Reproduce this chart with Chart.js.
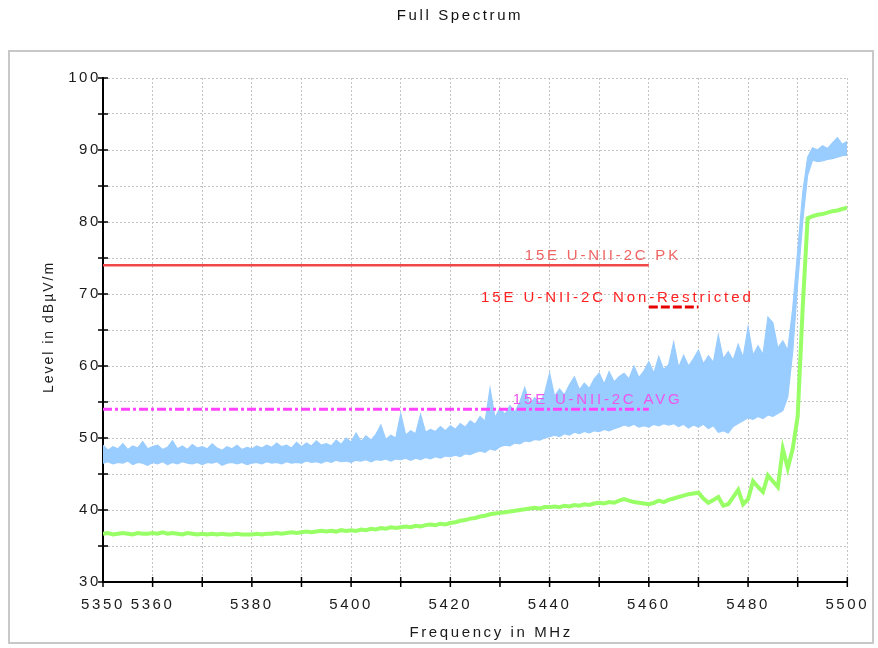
<!DOCTYPE html>
<html>
<head>
<meta charset="utf-8">
<script src="https://cdn.jsdelivr.net/npm/chart.js@4.4.1/dist/chart.umd.min.js"></script>
<style>
html,body{margin:0;padding:0;background:#fff;}
canvas{display:block;}
</style>
</head>
<body>
<canvas id="c" width="878" height="648"></canvas>
<script>
// ---------------- DATA ----------------
const freqMHz = [
5350,5351,5352,5353,5354,5355,5356,5357,5358,5359,
5360,5361,5362,5363,5364,5365,5366,5367,5368,5369,
5370,5371,5372,5373,5374,5375,5376,5377,5378,5379,
5380,5381,5382,5383,5384,5385,5386,5387,5388,5389,
5390,5391,5392,5393,5394,5395,5396,5397,5398,5399,
5400,5401,5402,5403,5404,5405,5406,5407,5408,5409,
5410,5411,5412,5413,5414,5415,5416,5417,5418,5419,
5420,5421,5422,5423,5424,5425,5426,5427,5428,5429,
5430,5431,5432,5433,5434,5435,5436,5437,5438,5439,
5440,5441,5442,5443,5444,5445,5446,5447,5448,5449,
5450,5451,5452,5453,5454,5455,5456,5457,5458,5459,
5460,5461,5462,5463,5464,5465,5466,5467,5468,5469,
5470,5471,5472,5473,5474,5475,5476,5477,5478,5479,
5480,5481,5482,5483,5484,5485,5486,5487,5488,5489,
5490,5491,5492,5493,5494,5495,5496,5497,5498,5499,
5500];

// Peak trace (blue): upper and lower edges of the noise band
const peakHigh = [
49.0,48.3,48.8,48.5,49.2,48.4,48.9,48.6,49.5,48.5,
48.8,49.0,48.4,48.7,49.6,48.5,48.9,48.4,49.1,48.6,
48.8,48.5,49.2,48.6,48.3,48.8,48.5,49.0,48.4,48.7,
48.5,48.9,48.6,49.0,48.7,49.3,48.8,49.0,48.6,49.4,
48.8,49.3,48.9,49.6,49.0,49.2,48.9,49.7,49.1,50.0,
49.4,50.7,49.5,50.3,49.7,50.5,51.8,49.8,50.4,50.0,
53.4,50.4,51.0,50.6,53.3,50.8,51.2,50.9,51.6,51.0,
51.7,51.2,52.0,51.5,52.4,51.9,53.0,52.3,56.9,52.8,
54.2,53.3,54.5,53.6,55.0,57.0,54.6,55.6,54.9,56.2,
59.0,55.8,56.8,56.0,57.4,58.5,56.7,57.6,56.9,58.2,
59.0,57.5,59.2,57.8,58.5,59.0,58.2,60.0,58.4,59.3,
60.6,59.0,61.3,59.5,60.2,63.3,59.8,61.5,60.0,61.0,
62.2,60.3,61.4,60.5,64.3,61.0,62.0,60.8,63.0,61.2,
65.4,61.5,62.8,61.6,66.8,66.0,62.5,63.5,62.2,68.0,
76.0,84.0,89.0,90.3,90.0,90.6,90.2,91.0,91.7,90.8,
91.2];
const peakLow = [
46.5,46.7,46.4,46.6,46.5,46.8,46.3,46.6,46.5,46.2,
46.6,46.4,46.7,46.3,46.6,46.4,46.7,46.5,46.4,46.6,
46.3,46.6,46.5,46.7,46.2,46.5,46.6,46.4,46.6,46.3,
46.5,46.6,46.4,46.7,46.5,46.6,46.4,46.7,46.5,46.6,
46.5,46.8,46.6,46.7,46.5,46.8,46.6,46.9,46.7,46.8,
46.6,46.9,46.8,47.0,46.7,47.0,46.9,47.1,46.8,47.1,
47.0,47.2,46.9,47.2,47.0,47.3,47.1,47.4,47.2,47.5,
47.4,47.6,47.4,47.8,47.7,48.0,48.2,48.0,48.5,48.3,
48.8,49.0,48.9,49.3,49.2,49.6,49.5,49.8,49.7,50.0,
50.2,50.4,50.2,50.6,50.4,50.8,50.6,50.9,50.7,51.0,
50.9,51.2,51.0,51.3,51.5,51.8,51.6,51.9,51.5,51.7,
51.5,51.9,51.7,52.0,51.8,52.0,51.6,51.9,51.4,51.8,
51.5,51.9,51.3,51.7,50.8,51.0,50.7,51.6,52.0,52.4,
52.8,52.6,53.0,52.7,53.2,53.0,53.4,53.8,55.7,62.0,
71.5,80.0,86.5,88.6,88.4,88.5,88.7,88.8,89.0,89.2,
89.3];

// Average trace (green)
const avgLevel = [
36.7,36.8,36.6,36.7,36.8,36.7,36.6,36.8,36.7,36.7,
36.8,36.7,36.9,36.7,36.8,36.7,36.6,36.8,36.7,36.6,
36.7,36.6,36.7,36.6,36.7,36.6,36.6,36.7,36.6,36.6,
36.6,36.7,36.6,36.7,36.7,36.8,36.7,36.8,36.9,36.8,
36.9,37.0,36.9,37.0,37.1,37.0,37.1,37.0,37.2,37.1,
37.2,37.1,37.3,37.2,37.4,37.3,37.5,37.4,37.6,37.5,
37.6,37.7,37.6,37.8,37.7,37.9,38.0,37.9,38.1,38.0,
38.2,38.3,38.5,38.6,38.8,38.9,39.1,39.2,39.4,39.5,
39.6,39.7,39.8,39.9,40.0,40.1,40.2,40.3,40.2,40.4,
40.4,40.5,40.4,40.6,40.5,40.7,40.6,40.8,40.7,40.9,
41.0,40.9,41.1,41.0,41.3,41.5,41.3,41.1,41.0,40.9,
40.8,41.0,41.3,41.1,41.4,41.6,41.8,42.0,42.2,42.3,
42.4,41.6,41.0,41.4,41.8,40.6,40.8,41.8,42.8,40.8,
41.5,44.0,43.2,42.5,44.8,44.0,43.2,48.5,45.8,48.5,
53.0,68.0,80.5,80.8,81.0,81.1,81.3,81.5,81.6,81.8,
82.0];

// Limit lines
const limitPkFreq = [5350, 5460];
const limitPkLevel = [74, 74];
const limitNrFreq = [5460, 5470];
const limitNrLevel = [68.2, 68.2];
const limitAvgFreq = [5350, 5460];
const limitAvgLevel = [54, 54];
const limitNames = ['15E U-NII-2C PK', '15E U-NII-2C Non-Restricted', '15E U-NII-2C AVG'];

// Tick labels
const yTickLabels = [30, 40, 50, 60, 70, 80, 90, 100];
const xTickLabels = [5350, 5360, 5380, 5400, 5420, 5440, 5460, 5480, 5500];

// ---------------- BUILD ----------------
const pts = (xs, ys) => xs.map((x, i) => ({x: x, y: ys[i]}));

// label placement (in data units) and styling
const limitLabelStyle = [
  {mhz: 5435.0, level: 75.3, color: '#f06464', ls: '2.8px'},
  {mhz: 5426.2, level: 69.4, color: '#ff2020', ls: '2.9px'},
  {mhz: 5432.6, level: 55.3, color: '#ee55ee', ls: '2.8px'}
];
const FONT = '"Liberation Sans", Arial, sans-serif';
const LS = '2.6px';
const BLUE = '#99ccff';

const decor = {
  id: 'decor',
  afterLayout(chart) {
    const tb = chart.titleBlock;
    if (tb && !tb._wrapped) {
      const orig = tb.draw.bind(tb);
      tb.draw = function (a) {
        const c = chart.ctx; c.save(); c.letterSpacing = LS;
        c.translate(460 - (tb.left + tb.right) / 2, 0); orig(a); c.restore();
      };
      tb._wrapped = true;
    }
    const xs = chart.scales.x, ys = chart.scales.y;
    if (xs && !xs._wrapped) {
      const o = xs.drawTitle.bind(xs);
      xs.drawTitle = function () { const c = chart.ctx; c.save(); c.letterSpacing = LS; c.translate(16, 0); o(); c.restore(); };
      xs._wrapped = true;
    }
    if (ys && !ys._wrapped) {
      const o = ys.drawTitle.bind(ys);
      ys.drawTitle = function () { const c = chart.ctx; c.save(); c.letterSpacing = '2px'; c.translate(0, -3); o(); c.restore(); };
      ys._wrapped = true;
    }
  },
  beforeDraw(chart) {
    const c = chart.ctx;
    c.save();
    c.fillStyle = '#fff'; c.fillRect(0, 0, chart.width, chart.height);
    c.strokeStyle = '#c8c8c8'; c.lineWidth = 2;
    c.strokeRect(9, 51, 864, 592);
    c.restore();
    c.letterSpacing = LS;
  },
  afterDatasetsDraw(chart) {
    const c = chart.ctx, x = chart.scales.x, y = chart.scales.y;
    c.save();
    c.strokeStyle = '#000'; c.lineWidth = 1.5;
    c.beginPath();
    y.ticks.forEach(t => { const p = y.getPixelForValue(t.value); c.moveTo(x.left - 5, p); c.lineTo(x.left + 5, p); });
    x.ticks.forEach(t => { const p = x.getPixelForValue(t.value); c.moveTo(p, y.bottom - 5); c.lineTo(p, y.bottom + 5); });
    c.stroke();
    c.font = '15px ' + FONT;
    c.textAlign = 'left'; c.textBaseline = 'middle';
    limitNames.forEach((name, i) => {
      const s = limitLabelStyle[i];
      c.letterSpacing = s.ls;
      c.fillStyle = s.color;
      c.fillText(name, x.getPixelForValue(s.mhz), y.getPixelForValue(s.level));
    });
    c.restore();
  }
};

new Chart(document.getElementById('c'), {
  type: 'line',
  data: {
    datasets: [
      {label: limitNames[0], data: pts(limitPkFreq, limitPkLevel), borderColor: '#f04848', borderWidth: 2.5, fill: false, order: 0},
      {label: limitNames[1], data: pts(limitNrFreq, limitNrLevel), borderColor: '#e60000', borderWidth: 3, borderDash: [9, 3], fill: false, order: 0},
      {label: limitNames[2], data: pts(limitAvgFreq, limitAvgLevel), borderColor: '#ff44ff', borderWidth: 3, borderDash: [9, 3, 3, 3], fill: false, order: 0},
      {label: 'Average', data: pts(freqMHz, avgLevel), borderColor: '#99ff66', borderWidth: 4, fill: false, order: 1},
      {label: 'Peak', data: pts(freqMHz, peakHigh), borderColor: BLUE, backgroundColor: BLUE, borderWidth: 1.2, fill: '+1', order: 2},
      {label: 'Peak (band floor)', data: pts(freqMHz, peakLow), borderColor: BLUE, borderWidth: 1.2, fill: false, order: 2}
    ]
  },
  options: {
    responsive: false,
    animation: false,
    devicePixelRatio: 1,
    layout: {padding: {top: 0, left: 0, right: 27, bottom: 0}},
    elements: {point: {radius: 0}, line: {tension: 0, borderCapStyle: 'butt'}},
    plugins: {
      legend: {display: false},
      tooltip: {enabled: false},
      filler: {propagate: false},
      title: {
        display: true, text: 'Full Spectrum', color: '#111',
        font: {family: FONT, size: 15, weight: 'normal', lineHeight: 1.2},
        padding: {top: 7, bottom: 53}
      }
    },
    scales: {
      x: {
        type: 'linear', min: 5350, max: 5500,
        afterFit(s) { s.height = 66; },
        grid: {color: '#c4c4c4', lineWidth: 1, drawTicks: false},
        border: {color: '#000', width: 2, dash: [2, 2]},
        ticks: {
          stepSize: 10, autoSkip: false, maxRotation: 0, padding: 14, color: '#1a1a1a',
          font: {family: FONT, size: 15},
          callback: v => xTickLabels.includes(v) ? String(v) : ''
        },
        title: {display: true, text: 'Frequency in MHz', color: '#1a1a1a',
          font: {family: FONT, size: 15}, padding: {top: 0, bottom: 6}}
      },
      y: {
        type: 'linear', min: 30, max: 100,
        afterFit(s) { s.width = 103; },
        grid: {color: '#c4c4c4', lineWidth: 1, drawTicks: false},
        border: {color: '#000', width: 2, dash: [2, 2]},
        ticks: {
          stepSize: 5, autoSkip: false, padding: 2, color: '#1a1a1a',
          font: {family: FONT, size: 15},
          callback: v => yTickLabels.includes(v) ? String(v) : ''
        },
        title: {display: true, text: 'Level in dBµV/m', color: '#1a1a1a',
          font: {family: FONT, size: 14}, padding: {top: 41, bottom: 0}}
      }
    }
  },
  plugins: [decor]
});
</script>
</body>
</html>
